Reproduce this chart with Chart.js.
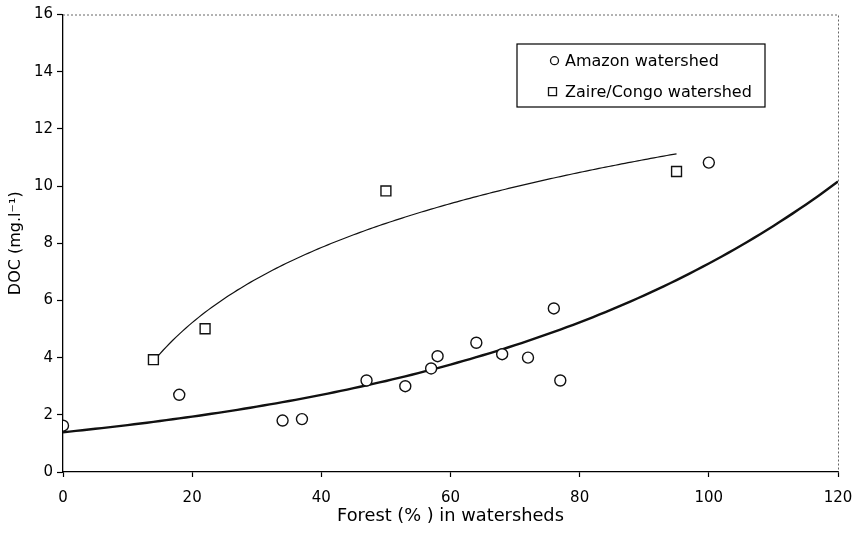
<!DOCTYPE html>
<html><head><meta charset="utf-8">
<script src="https://cdn.jsdelivr.net/npm/chart.js@4.4.1/dist/chart.umd.min.js"></script>
<style>html,body{margin:0;padding:0;background:#fff;}#wrap{width:856px;height:539px;position:relative;}</style>
</head><body><div id="wrap"><canvas id="c" width="856" height="539"></canvas></div>
<script>
// ---- data ----
const amazonForest = [0, 18, 34, 37, 47, 53, 57, 58, 64, 68, 72, 76, 77, 100];
const amazonDOC    = [1.62, 2.7, 1.8, 1.85, 3.2, 3.0, 3.62, 4.05, 4.52, 4.12, 4.0, 5.72, 3.2, 10.82];
const congoForest  = [14, 22, 50, 95];
const congoDOC     = [3.93, 5.01, 9.83, 10.51];
const xTicks = [0, 20, 40, 60, 80, 100, 120];
const yTicks = [0, 2, 4, 6, 8, 10, 12, 14, 16];
const seriesNames = ['Amazon watershed', 'Zaire/Congo watershed'];
const xTitle = 'Forest (% ) in watersheds';
const yTitle = 'DOC (mg.l\u207B\u00B9)';
const amazonTrendRange = [0, 120];  // exponential trendline, extended forward
const congoTrendRange  = [14, 95];  // logarithmic trendline over data range

// least-squares trendlines fitted to the data above (as the spreadsheet did)
function expFit(xs, ys) {
  const n = xs.length; let sx = 0, sy = 0, sxx = 0, sxy = 0;
  for (let i = 0; i < n; i++) { const l = Math.log(ys[i]); sx += xs[i]; sy += l; sxx += xs[i]*xs[i]; sxy += xs[i]*l; }
  const b = (n*sxy - sx*sy) / (n*sxx - sx*sx); const a = Math.exp((sy - b*sx)/n);
  return x => a*Math.exp(b*x);
}
function logFit(xs, ys) {
  const n = xs.length; let sx = 0, sy = 0, sxx = 0, sxy = 0;
  for (let i = 0; i < n; i++) { const l = Math.log(xs[i]); sx += l; sy += ys[i]; sxx += l*l; sxy += l*ys[i]; }
  const b = (n*sxy - sx*sy) / (n*sxx - sx*sx); const a = (sy - b*sx)/n;
  return x => a + b*Math.log(x);
}
function sample(f, range, step) {
  const out = [];
  for (let x = range[0]; x <= range[1] + 1e-9; x += step) out.push({x: x, y: f(x)});
  return out;
}
const amazonTrend = sample(expFit(amazonForest, amazonDOC), amazonTrendRange, 1);
const congoTrend  = sample(logFit(congoForest, congoDOC), congoTrendRange, 0.5);

const FONT = 'DejaVu Sans';

const framePlugin = {
  id: 'frame',
  beforeDatasetsDraw(chart) {
    const {ctx, chartArea: {left, top, right, bottom}} = chart;
    ctx.save();
    ctx.strokeStyle = '#666'; ctx.lineWidth = 1; ctx.setLineDash([2, 2]);
    ctx.beginPath(); ctx.moveTo(left, top + 0.5); ctx.lineTo(right + 0.5, top + 0.5); ctx.lineTo(right + 0.5, bottom); ctx.stroke();
    ctx.restore();
  }
};

const boxLegend = {
  id: 'boxLegend',
  afterDraw(chart) {
    const {ctx, chartArea} = chart;
    const bx = chartArea.left + 454, by = chartArea.top + 29.5, bw = 248, bh = 63;
    ctx.save();
    ctx.fillStyle = '#fff'; ctx.fillRect(bx, by, bw, bh);
    ctx.strokeStyle = '#000'; ctx.lineWidth = 1.2; ctx.strokeRect(bx, by, bw, bh);
    const items = [
      {ds: chart.data.datasets[0], mx: bx + 37.5, y: by + 16.7, style: 'circle', r: 4},
      {ds: chart.data.datasets[1], mx: bx + 35.5, y: by + 47.7, style: 'rect', r: 5.66}
    ];
    ctx.font = '16px "' + FONT + '"'; ctx.textBaseline = 'middle'; ctx.textAlign = 'left';
    items.forEach(it => {
      ctx.fillStyle = '#fff'; ctx.strokeStyle = '#111'; ctx.lineWidth = 1.3;
      Chart.helpers.drawPoint(ctx, {pointStyle: it.style, radius: it.r, rotation: 0, borderWidth: 1.3}, it.mx, it.y);
      ctx.fillStyle = '#000';
      ctx.fillText(it.ds.label, bx + 48, it.y + 1);
    });
    ctx.restore();
  }
};

new Chart(document.getElementById('c'), {
  type: 'scatter',
  data: {
    datasets: [
      {label: seriesNames[0], data: amazonForest.map((x, i) => ({x: x, y: amazonDOC[i]})),
       pointStyle: 'circle', pointRadius: 5.5, pointBackgroundColor: '#fff', pointBorderColor: '#111', pointBorderWidth: 1.4, order: 0},
      {label: seriesNames[1], data: congoForest.map((x, i) => ({x: x, y: congoDOC[i]})),
       pointStyle: 'rect', pointRadius: 7, pointBackgroundColor: '#fff', pointBorderColor: '#111', pointBorderWidth: 1.4, order: 0},
      {label: 'Amazon trend', data: amazonTrend, showLine: true, borderColor: '#111', borderWidth: 2.4, pointRadius: 0, tension: 0, fill: false, order: 2},
      {label: 'Congo trend', data: congoTrend, showLine: true, borderColor: '#111', borderWidth: 1.2, pointRadius: 0, tension: 0, fill: false, order: 2}
    ]
  },
  options: {
    responsive: false, animation: false, devicePixelRatio: 1,
    layout: {padding: {top: 14.5, right: 18, bottom: 0, left: 0}},
    plugins: {legend: {display: false}, tooltip: {enabled: false}},
    scales: {
      x: {
        type: 'linear', position: 'bottom', min: xTicks[0], max: xTicks[xTicks.length - 1],
        afterBuildTicks: s => { s.ticks = xTicks.map(v => ({value: v})); },
        afterFit: s => { s.height = 67; s.paddingLeft = 0; s.paddingRight = 0; },
        border: {color: '#000', width: 1.3},
        grid: {drawOnChartArea: false, drawTicks: true, tickLength: 5, tickColor: '#000', tickWidth: 1.2},
        ticks: {font: {family: FONT, size: 15}, color: '#000', padding: 12, maxRotation: 0, autoSkip: false},
        title: {display: true, text: xTitle, font: {family: FONT, size: 17.8}, color: '#000', padding: {top: 0, bottom: 11.7}}
      },
      y: {
        type: 'linear', position: 'left', min: yTicks[0], max: yTicks[yTicks.length - 1],
        afterBuildTicks: s => { s.ticks = yTicks.map(v => ({value: v})); },
        afterFit: s => { s.width = 63; s.paddingTop = 0; s.paddingBottom = 0; },
        border: {color: '#000', width: 1.3},
        grid: {drawOnChartArea: false, drawTicks: true, tickLength: 6, tickColor: '#000', tickWidth: 1.2},
        ticks: {font: {family: FONT, size: 15}, color: '#000', padding: 4, autoSkip: false},
        title: {display: true, text: yTitle, font: {family: FONT, size: 16}, color: '#000', padding: {top: 6.4, bottom: 0}}
      }
    }
  },
  plugins: [framePlugin, boxLegend]
});
</script></body></html>
